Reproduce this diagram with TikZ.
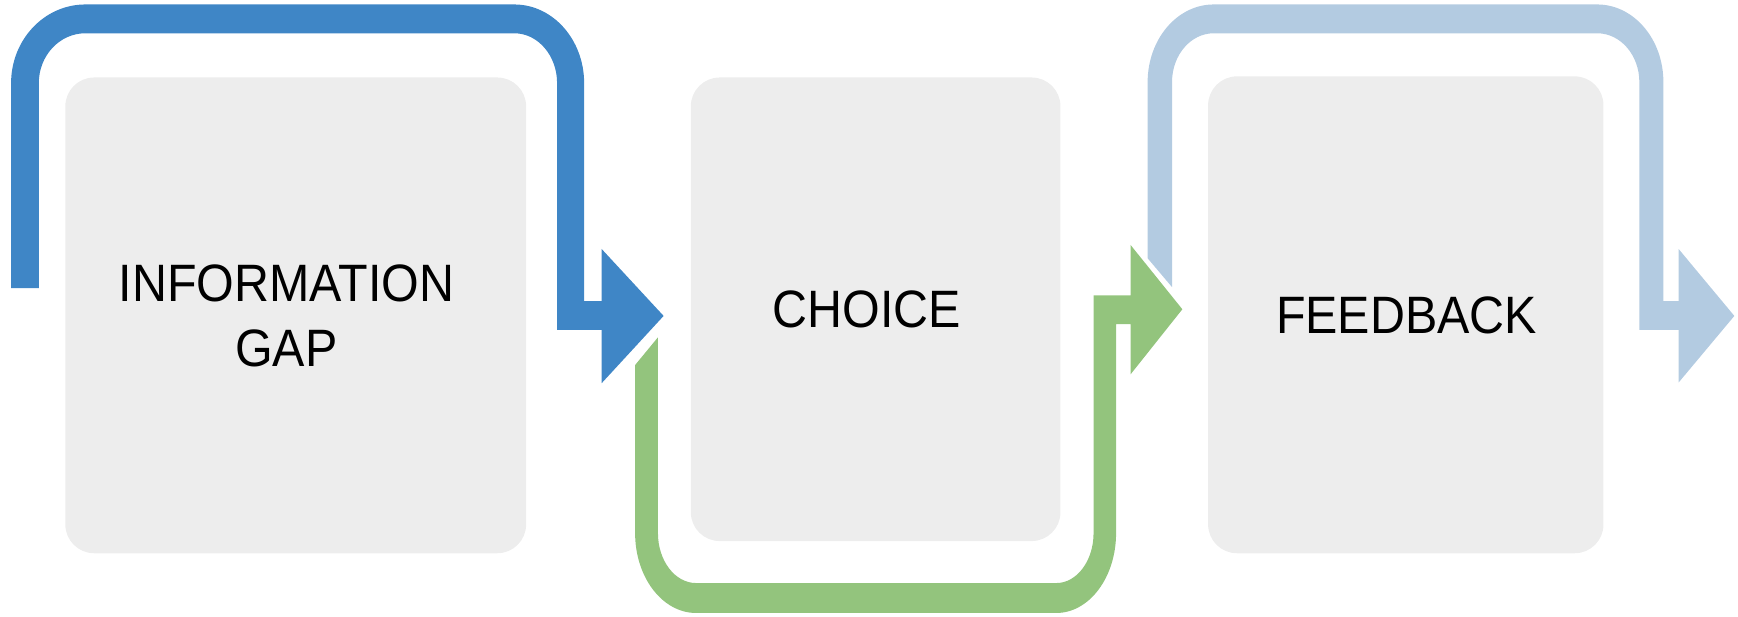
\documentclass[tikz,border=0pt]{standalone}
\usepackage{fontspec}
\newfontfamily\cardfont{Liberation Sans}[FakeStretch=0.92]
\definecolor{flowblue}{HTML}{3F86C6}
\definecolor{flowgreen}{HTML}{93C47D}
\definecolor{flowpale}{HTML}{B3CBE1}
\definecolor{cardgray}{HTML}{EDEDED}
\begin{document}
\begin{tikzpicture}[x=0.01cm, y=-0.01cm,
    card/.style={fill=cardgray, rounded corners=0.26cm, inner sep=0pt},
    lbl/.style={font=\cardfont\fontsize{13.5}{16.5}\selectfont, align=center, inner sep=0pt}]
  \useasboundingbox (0,0) rectangle (1568,556);
  % cards
  \node[card, minimum width=4.155cm, minimum height=4.29cm] (info) at (266.8,284.5) {};
  \node[card, minimum width=3.333cm, minimum height=4.18cm] (choice) at (790,279) {};
  \node[card, minimum width=3.565cm, minimum height=4.30cm] (feedback) at (1268.3,284) {};
  \node[lbl] (infotext) at (258.4,285) {INFORMATION\\GAP};
  \node[lbl] (choicetext) at (782,279) {CHOICE};
  \node[lbl] (feedbacktext) at (1269,284.2) {FEEDBACK};
  % blue arrow over the first card
  \fill[flowblue] (10,260) -- (10,75) arc[start angle=180, end angle=270, x radius=67, y radius=71]
    -- (464,4) arc[start angle=270, end angle=360, x radius=63, y radius=71]
    -- (527,271.6) -- (542.8,271.6) -- (542.8,224.6) -- (598.7,285) -- (542.8,345.7)
    -- (542.8,297.7) -- (502.6,297.7) -- (502.6,75)
    arc[start angle=0, end angle=-90, x radius=38.6, y radius=45]
    -- (77,30) arc[start angle=270, end angle=180, x radius=42, y radius=45]
    -- (35,260) -- cycle;
  % green arrow under the second card
  \fill[flowgreen] (573,329.3) -- (593.6,304.3) -- (593.6,481)
    arc[start angle=180, end angle=90, x radius=34.4, y radius=45]
    -- (953,526) arc[start angle=90, end angle=0, x radius=33.6, y radius=45]
    -- (986.6,266.4) -- (1020,266.4) -- (1020,221) -- (1066.7,279) -- (1020,337.7)
    -- (1020,292.3) -- (1006.9,292.3) -- (1006.9,481)
    arc[start angle=0, end angle=90, x radius=53.9, y radius=72]
    -- (628,553) arc[start angle=90, end angle=180, x radius=55, y radius=72]
    -- cycle;
  % pale arrow over the third card
  \fill[flowpale] (1035.4,233) -- (1035.4,74) arc[start angle=180, end angle=270, x radius=59.6, y radius=70]
    -- (1441,4) arc[start angle=270, end angle=360, x radius=59.7, y radius=70]
    -- (1500.7,271.6) -- (1514.5,271.6) -- (1514.5,224.7) -- (1564.7,285) -- (1514.5,345)
    -- (1514.5,297.7) -- (1479,297.7) -- (1479,74)
    arc[start angle=0, end angle=-90, x radius=38, y radius=44]
    -- (1095,30) arc[start angle=270, end angle=180, x radius=37.6, y radius=44]
    -- (1057.4,259) -- cycle;
\end{tikzpicture}
\end{document}
